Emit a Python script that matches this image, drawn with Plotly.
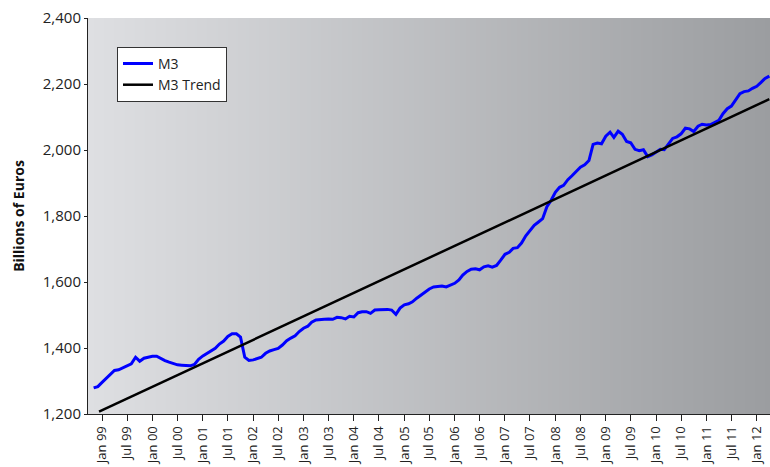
import pandas as pd
import plotly.graph_objects as go

# Monthly M3 stock, Nov 1998 - Apr 2012 (billions of euros)
m3_values = [
    1279, 1283, 1296, 1309, 1322, 1332, 1334, 1340, 1346, 1352,
    1372, 1360, 1369, 1373, 1375, 1375, 1368, 1362, 1357, 1352,
    1349, 1348, 1348, 1346, 1350, 1366, 1376, 1384, 1391, 1399,
    1412, 1421, 1435, 1443, 1443, 1433, 1372, 1362, 1364, 1367,
    1372, 1384, 1391, 1395, 1399, 1409, 1422, 1430, 1437, 1450,
    1460, 1466, 1478, 1485, 1485, 1487, 1488, 1487, 1493, 1492,
    1488, 1496, 1494, 1507, 1510, 1510, 1505, 1515, 1516, 1517,
    1517, 1515, 1502, 1521, 1531, 1534, 1540, 1551, 1560, 1569,
    1579, 1585, 1586, 1588, 1585, 1590, 1596, 1606, 1621, 1632,
    1639, 1640, 1637, 1646, 1649, 1645, 1650, 1666, 1684, 1690,
    1702, 1704, 1718, 1740, 1757, 1772, 1782, 1792, 1828, 1847,
    1872, 1887, 1893, 1910, 1922, 1934, 1948, 1955, 1968, 2017,
    2021, 2019, 2042, 2054, 2038, 2057, 2048, 2026, 2022, 2002,
    1998, 2001, 1980, 1985, 1994, 2002, 2001, 2020, 2035, 2040,
    2049, 2066, 2064, 2056, 2072, 2078, 2076, 2077, 2083, 2090,
    2110, 2125, 2133, 2153, 2171, 2177, 2179, 2187, 2193, 2205,
    2217, 2224,
]
m3_dates = pd.date_range("1998-11-01", periods=len(m3_values), freq="MS")

# Linear trend end points
trend_dates = ["1998-12-10", "2012-04-01"]
trend_values = [1207, 2154]

# Axis ticks
tick_dates = pd.date_range("1999-01-01", "2012-01-01", freq="6MS")
tick_labels = [d.strftime("%b %y") for d in tick_dates]
x_range = ["1998-09-21", "2012-04-06"]
y_ticks = [1200, 1400, 1600, 1800, 2000, 2200, 2400]

fig = go.Figure()

# Grey gradient plot background
fig.add_trace(
    go.Heatmap(
        x=x_range,
        y=[1200, 2400],
        z=[[0, 1], [0, 1]],
        zsmooth="best",
        colorscale=[[0, "rgb(222,223,226)"], [1, "rgb(155,157,160)"]],
        showscale=False,
        hoverinfo="skip",
        showlegend=False,
    )
)

fig.add_trace(
    go.Scatter(
        x=m3_dates,
        y=m3_values,
        mode="lines",
        name="M3",
        line=dict(color="#0000ff", width=3),
    )
)
fig.add_trace(
    go.Scatter(
        x=trend_dates,
        y=trend_values,
        mode="lines",
        name="M3 Trend",
        line=dict(color="#000000", width=2.5),
    )
)

fig.update_layout(
    width=770,
    height=467,
    margin=dict(l=88, r=0, t=18, b=53),
    paper_bgcolor="white",
    plot_bgcolor="white",
    font=dict(family="Open Sans, DejaVu Sans, sans-serif", color="#222222"),
    legend=dict(
        x=0.0425,
        y=0.927,
        xanchor="left",
        yanchor="top",
        bgcolor="white",
        bordercolor="#333333",
        borderwidth=1,
        font=dict(size=14, color="#222222"),
        tracegroupgap=0,
        itemwidth=30,
    ),
    xaxis=dict(
        type="date",
        range=x_range,
        tickvals=tick_dates,
        ticktext=tick_labels,
        tickangle=-90,
        ticks="outside",
        ticklen=6,
        tickcolor="#222222",
        tickfont=dict(size=13),
        showgrid=False,
        showline=True,
        linecolor="#222222",
        linewidth=1,
        zeroline=False,
        automargin=False,
    ),
    yaxis=dict(
        range=[1200, 2400],
        tickvals=y_ticks,
        tickformat=",d",
        ticks="outside",
        ticklen=3,
        tickcolor="#222222",
        tickfont=dict(size=15),
        showgrid=True,
        gridcolor="#3c3c3c",
        gridwidth=1,
        showline=True,
        linecolor="#222222",
        linewidth=1,
        zeroline=False,
        automargin=False,
        title=dict(
            text="<b>Billions of Euros</b>",
            font=dict(size=14, color="#111111"),
            standoff=14,
        ),
    ),
)

# drop the browser's default 8px body margin so the figure fills the window
fig.write_html(
    "out.html",
    config={"displayModeBar": False},
    post_script="document.body.style.margin = '0';",
)
